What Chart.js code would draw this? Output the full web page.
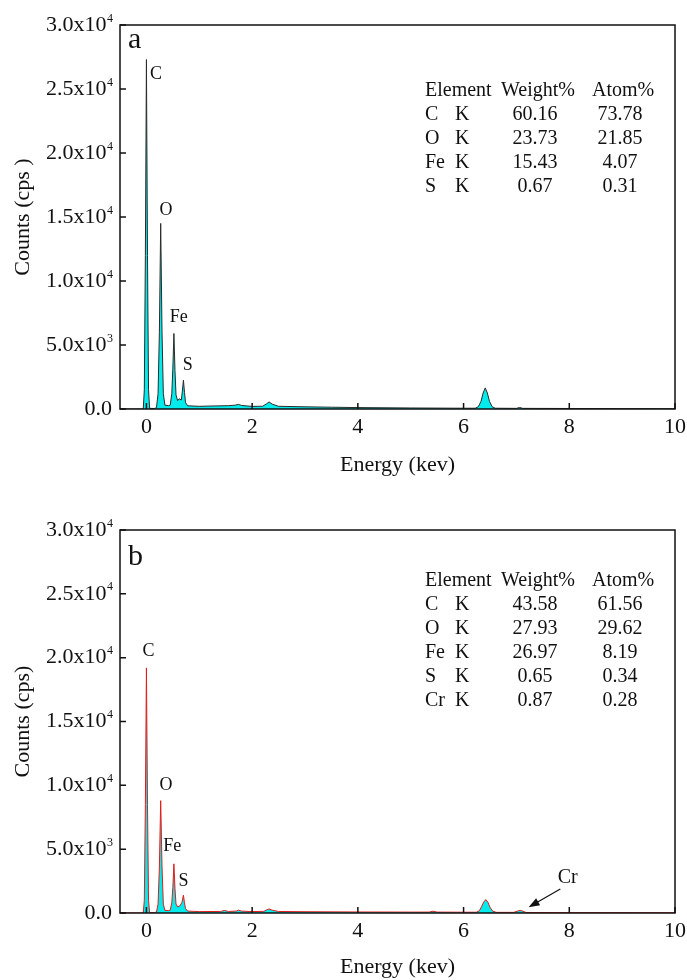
<!DOCTYPE html>
<html>
<head>
<meta charset="utf-8">
<script src="https://cdn.jsdelivr.net/npm/chart.js@4.4.0/dist/chart.umd.min.js"></script>
<style>
  html, body { margin: 0; padding: 0; background: #fff; }
  #wrap { position: relative; width: 687px; height: 980px; }
  canvas { position: absolute; left: 0; }
</style>
</head>
<body>
<div id="wrap">
  <canvas id="chartA" width="687" height="490" style="top:0"></canvas>
  <canvas id="chartB" width="687" height="490" style="top:490px"></canvas>
</div>
<script>
// axis ticks
const energyTicks = [0, 2, 4, 6, 8, 10];
const countTicks = [0, 5000, 10000, 15000, 20000, 25000, 30000];

// spectrum a (keV, cps)
const energyA = [-0.5, -0.06, -0.04, -0.02, 0, 0.02, 0.04, 0.06, 0.15, 0.19, 0.22, 0.245, 0.27, 0.295, 0.32, 0.35,
  0.42, 0.45, 0.48, 0.5, 0.52, 0.54, 0.56, 0.59, 0.62, 0.66, 0.68, 0.7, 0.72, 0.74, 0.78, 1.0, 1.3, 1.55, 1.68, 1.74, 1.8,
  2.0, 2.2, 2.27, 2.32, 2.38, 2.5, 3.0, 3.5, 4.0, 5.0, 6.0, 6.22, 6.28, 6.33, 6.37, 6.41, 6.45, 6.49, 6.54, 6.6,
  7.0, 7.06, 7.12, 8.0, 10.0];
const countsA = [0, 0, 1500, 12000, 27300, 12000, 1500, 50, 40, 100, 1200, 6000, 14500, 6000, 1200, 300,
  260, 300, 1200, 3200, 5900, 3000, 1100, 650, 800, 700, 1400, 2250, 1300, 500, 250, 210, 240, 260, 300, 360, 280,
  200, 220, 400, 550, 380, 210, 170, 140, 110, 80, 60, 60, 180, 600, 1250, 1650, 1250, 600, 180, 60,
  50, 120, 50, 40, 20];

// spectrum b (keV, cps)
const energyB = [-0.5, -0.06, -0.04, -0.02, 0, 0.02, 0.04, 0.06, 0.15, 0.19, 0.22, 0.245, 0.27, 0.295, 0.32, 0.35,
  0.42, 0.45, 0.48, 0.5, 0.52, 0.54, 0.56, 0.59, 0.63, 0.67, 0.7, 0.72, 0.74, 0.78, 1.0, 1.4, 1.48, 1.55, 1.7, 1.74, 1.8,
  2.0, 2.22, 2.28, 2.32, 2.38, 2.5, 3.0, 4.0, 5.0, 5.35, 5.42, 5.5, 6.0, 6.24, 6.3, 6.34, 6.38, 6.42, 6.46, 6.5,
  6.55, 6.62, 6.95, 7.02, 7.07, 7.12, 7.18, 8.0, 10.0];
const countsB = [0, 0, 1000, 8500, 19200, 8500, 1000, 30, 30, 80, 700, 3600, 8800, 3600, 700, 200,
  190, 220, 800, 2000, 3850, 1900, 700, 480, 550, 800, 1400, 800, 350, 150, 110, 120, 200, 120, 150, 220, 150,
  110, 130, 250, 320, 220, 120, 100, 80, 70, 70, 140, 70, 60, 60, 180, 500, 850, 1050, 850, 450,
  150, 50, 50, 150, 200, 150, 40, 30, 20];

// quantification tables
const tableHead = ['Element', 'Weight%', 'Atom%'];
const elementsA = ['C', 'O', 'Fe', 'S'];
const weightA = [60.16, 23.73, 15.43, 0.67];
const atomA = [73.78, 21.85, 4.07, 0.31];
const elementsB = ['C', 'O', 'Fe', 'S', 'Cr'];
const weightB = [43.58, 27.93, 26.97, 0.65, 0.87];
const atomB = [61.56, 29.62, 8.19, 0.34, 0.28];

const SERIF = '"Liberation Serif", "Times New Roman", serif';
const INK = '#111';
const CYAN = 'rgb(0, 236, 236)';

function drawCountLabel(ctx, value, xRight, py) {
  ctx.textBaseline = 'middle';
  ctx.textAlign = 'right';
  if (value === 0) {
    ctx.font = '22px ' + SERIF;
    ctx.fillText('0.0', xRight - 1, py);
    return;
  }
  const exp = Math.floor(Math.log10(value));
  const mant = (value / Math.pow(10, exp)).toFixed(1);
  ctx.font = '12px ' + SERIF;
  const supW = ctx.measureText(String(exp)).width;
  ctx.fillText(String(exp), xRight, py - 6.5);
  ctx.font = '22px ' + SERIF;
  ctx.fillText(mant + 'x10', xRight - supW - 0.5, py);
}

function spectrumDecor(cfg) {
  return {
    id: 'spectrumDecor',
    afterDraw(chart) {
      const { ctx, chartArea: a, scales: { x, y } } = chart;
      ctx.save();
      ctx.fillStyle = INK;
      ctx.strokeStyle = INK;

      // frame + inward ticks
      ctx.lineWidth = 1.5;
      ctx.strokeRect(a.left, a.top, a.right - a.left, a.bottom - a.top);
      ctx.beginPath();
      x.ticks.forEach(t => {
        const px = x.getPixelForValue(t.value);
        ctx.moveTo(px, a.bottom); ctx.lineTo(px, a.bottom - 6);
      });
      y.ticks.forEach(t => {
        const py = y.getPixelForValue(t.value);
        ctx.moveTo(a.left, py); ctx.lineTo(a.left + 6, py);
      });
      ctx.stroke();

      // y tick labels with exponents
      y.ticks.forEach(t => drawCountLabel(ctx, t.value, a.left - 7, y.getPixelForValue(t.value)));

      // panel letter
      ctx.textAlign = 'left';
      ctx.textBaseline = 'alphabetic';
      ctx.font = '30px ' + SERIF;
      ctx.fillText(cfg.letter, a.left + 8, a.top + cfg.letterBase);

      // peak labels
      ctx.textAlign = 'center';
      ctx.textBaseline = 'middle';
      ctx.font = '18px ' + SERIF;
      cfg.peaks.forEach(p => ctx.fillText(p.name, x.getPixelForValue(p.e), y.getPixelForValue(p.c)));

      // composition table
      ctx.font = '20px ' + SERIF;
      const ty = a.top + cfg.tableTop;
      ctx.textAlign = 'left';
      ctx.fillText(tableHead[0], a.left + 305, ty);
      ctx.fillText(tableHead[1], a.left + 381, ty);
      ctx.fillText(tableHead[2], a.left + 472, ty);
      cfg.elements.forEach((el, i) => {
        const ry = ty + 24 * (i + 1);
        ctx.textAlign = 'left';
        ctx.fillText(el, a.left + 305, ry);
        ctx.fillText('K', a.left + 335, ry);
        ctx.textAlign = 'center';
        ctx.fillText(cfg.weight[i].toFixed(2), a.left + 415, ry);
        ctx.fillText(cfg.atom[i].toFixed(2), a.left + 500, ry);
      });

      // arrow pointing at a minor peak
      if (cfg.arrow) {
        const r = cfg.arrow;
        const x0 = x.getPixelForValue(r.from[0]), y0 = y.getPixelForValue(r.from[1]);
        const x1 = x.getPixelForValue(r.to[0]), y1 = y.getPixelForValue(r.to[1]);
        const ang = Math.atan2(y1 - y0, x1 - x0);
        ctx.lineWidth = 1.2;
        ctx.beginPath();
        ctx.moveTo(x0, y0);
        ctx.lineTo(x1 - 8 * Math.cos(ang), y1 - 8 * Math.sin(ang));
        ctx.stroke();
        ctx.beginPath();
        ctx.moveTo(x1, y1);
        ctx.lineTo(x1 - 11 * Math.cos(ang) + 4 * Math.sin(ang), y1 - 11 * Math.sin(ang) - 4 * Math.cos(ang));
        ctx.lineTo(x1 - 11 * Math.cos(ang) - 4 * Math.sin(ang), y1 - 11 * Math.sin(ang) + 4 * Math.cos(ang));
        ctx.closePath();
        ctx.fill();
        ctx.font = '20px ' + SERIF;
        ctx.textAlign = 'center';
        ctx.textBaseline = 'middle';
        ctx.fillText(r.label, x.getPixelForValue(r.text[0]), y.getPixelForValue(r.text[1]));
      }
      ctx.restore();
    }
  };
}

function makeSpectrum(id, energy, counts, lineColor, cfg) {
  return new Chart(document.getElementById(id), {
    type: 'line',
    data: {
      datasets: [{
        data: energy.map((e, i) => ({ x: e, y: counts[i] })),
        borderColor: lineColor,
        borderWidth: 1,
        backgroundColor: CYAN,
        fill: 'origin',
        pointRadius: 0,
        tension: 0
      }]
    },
    options: {
      responsive: false,
      animation: false,
      events: [],
      layout: { padding: { left: 0, right: 12, top: cfg.top, bottom: 0 } },
      plugins: { legend: { display: false }, tooltip: { enabled: false } },
      scales: {
        x: {
          type: 'linear', min: -0.5, max: 10,
          afterBuildTicks: s => { s.ticks = energyTicks.map(v => ({ value: v })); },
          afterFit: s => { s.height = cfg.xHeight; s.paddingLeft = 0; s.paddingRight = 0; },
          grid: { display: false, drawTicks: false },
          border: { display: false },
          ticks: { color: INK, padding: 5, maxRotation: 0, autoSkip: false, font: { family: SERIF, size: 22 } },
          title: { display: true, text: 'Energy (kev)', color: INK, font: { family: SERIF, size: 22 },
                   padding: { top: 0, bottom: cfg.titlePad } }
        },
        y: {
          type: 'linear', min: 0, max: 30000,
          afterBuildTicks: s => { s.ticks = countTicks.map(v => ({ value: v })); },
          afterFit: s => { s.width = 120; s.paddingTop = 0; s.paddingBottom = 0; },
          grid: { display: false, drawTicks: false },
          border: { display: false },
          ticks: { display: false },
          title: { display: true, text: cfg.yTitle, color: INK, font: { family: SERIF, size: 22 },
                   padding: { top: 10, bottom: 0 } }
        }
      }
    },
    plugins: [spectrumDecor(cfg)]
  });
}

makeSpectrum('chartA', energyA, countsA, '#2a2a2a', {
  top: 25, xHeight: 81, titlePad: 12, yTitle: 'Counts (cps )',
  letter: 'a', letterBase: 23,
  tableTop: 66, elements: elementsA, weight: weightA, atom: atomA,
  peaks: [
    { name: 'C', e: 0.18, c: 26150 },
    { name: 'O', e: 0.37, c: 15500 },
    { name: 'Fe', e: 0.61, c: 7130 },
    { name: 'S', e: 0.78, c: 3450 }
  ]
});

makeSpectrum('chartB', energyB, countsB, '#e31a1a', {
  top: 40, xHeight: 67, titlePad: 0, yTitle: 'Counts (cps)',
  letter: 'b', letterBase: 35,
  tableTop: 51, elements: elementsB, weight: weightB, atom: atomB,
  peaks: [
    { name: 'C', e: 0.04, c: 20540 },
    { name: 'O', e: 0.37, c: 9970 },
    { name: 'Fe', e: 0.49, c: 5190 },
    { name: 'S', e: 0.70, c: 2500 }
  ],
  arrow: { label: 'Cr', from: [7.83, 1880], to: [7.23, 450], text: [7.97, 2800] }
});
</script>
</body>
</html>
